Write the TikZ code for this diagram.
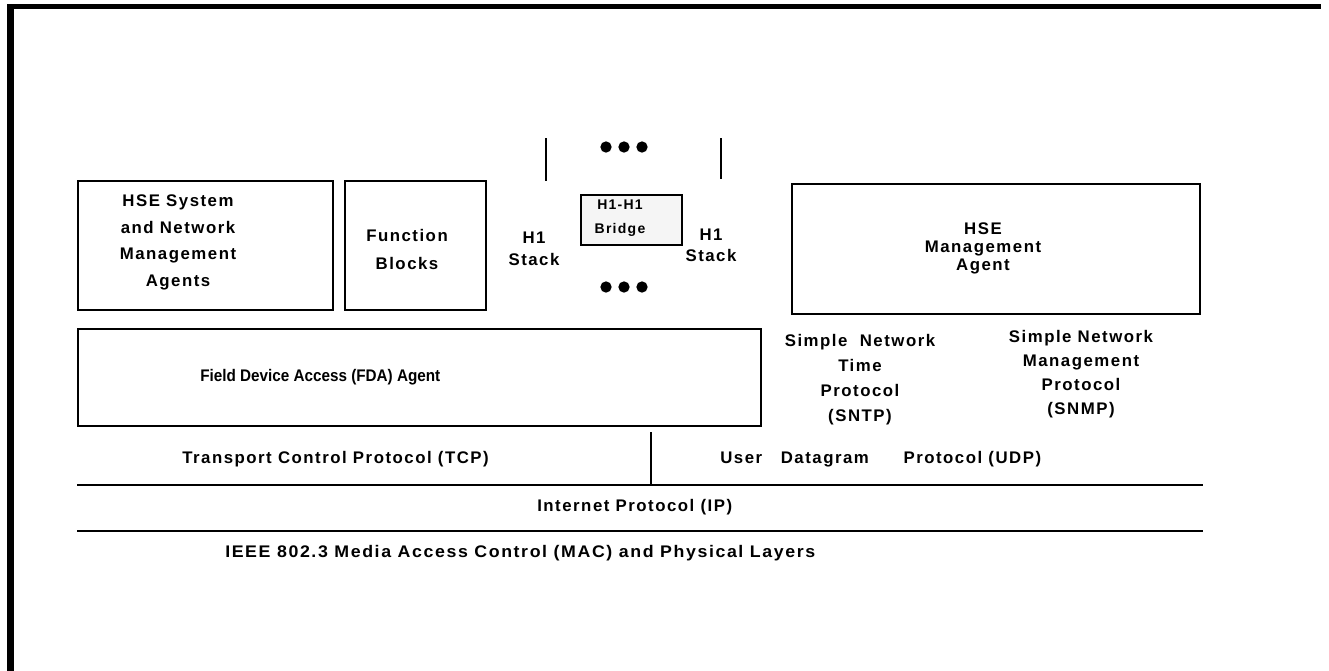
\documentclass[tikz,border=0pt]{standalone}
\usepackage{fontspec}
\setmainfont{Liberation Sans}
\newfontfamily\labf{Liberation Sans}[LetterSpace=9]
\begin{document}
\begin{tikzpicture}[x=0.75pt,y=-0.75pt,
  box/.style={draw, line width=1.3pt, inner sep=0pt, anchor=north west},
  txt/.style={inner sep=0pt, align=center, font={\labf\bfseries\fontsize{12.6}{#1}\selectfont}},
  txt/.default=15,
  plain/.style={inner sep=0pt, align=center, font={\bfseries\fontsize{12.6}{15}\selectfont}},
  small/.style={inner sep=0pt, align=center, font={\labf\bfseries\fontsize{10.5}{#1}\selectfont}},
  dot/.style={circle, fill=black, inner sep=0pt, minimum size=8.5pt},
  rule/.style={line width=1.5pt},
  vrule/.style={line width=1.3pt}]
\useasboundingbox (0,0) rectangle (1329,671);
% frame
\fill (7,4) rectangle (1321,9);
\fill (7,4) rectangle (14,671);
% top boxes
\node[box, minimum width=255*0.75pt, minimum height=129*0.75pt] (hsesys) at (77,180) {};
\node[box, minimum width=141*0.75pt, minimum height=129*0.75pt] (fb) at (344,180) {};
\node[box, fill=gray!8, minimum width=101*0.75pt, minimum height=50*0.75pt] (bridge) at (580,194) {};
\node[box, minimum width=408*0.75pt, minimum height=130*0.75pt] (hsem) at (791,183) {};
\node[box, minimum width=683*0.75pt, minimum height=97*0.75pt] (fda) at (77,328) {};
% texts
\node[txt=19.9] (thsesys) at (178,242.5) {HSE System\\and Network\\Management\\Agents};
\node[txt=21.7] (tfb) at (407,249.5) {Function\\Blocks};
\node[txt=16.5] (th1l) at (534,249) {H1\\Stack};
\node[txt=15.8] (th1r) at (711,245.5) {H1\\Stack};
\node[small=18] (tbridge) at (620,218) {H1-H1\\Bridge};
\node[txt=13.5] (thsem) at (983,248) {HSE\\Management\\Agent};
\node[plain, anchor=west] (tfda) at (200,377) {\resizebox{240\dimexpr0.75pt\relax}{\height}{Field Device Access (FDA) Agent}};
\node[txt=18.75] (tsntp) at (860,380) {Simple\ \ Network\\Time\\Protocol\\(SNTP)};
\node[txt=18] (tsnmp) at (1081,374) {Simple Network\\Management\\Protocol\\(SNMP)};
\node[txt, anchor=west] (ttcp) at (182,459) {Transport Control Protocol (TCP)};
\node[txt, anchor=west] (tudp) at (720,459) {User\hspace{14pt}Datagram\hspace{26pt}Protocol (UDP)};
\node[txt, anchor=west] (tip) at (537,507) {Internet Protocol (IP)};
\node[txt, anchor=west] (tieee) at (225,553) {\resizebox{590\dimexpr0.75pt\relax}{\height}{IEEE 802.3 Media Access Control (MAC) and Physical Layers}};
% dots
\node[dot] (d1) at (606,147) {};
\node[dot] (d2) at (624,147) {};
\node[dot] (d3) at (642,147) {};
\node[dot] (d4) at (606,287) {};
\node[dot] (d5) at (624,287) {};
\node[dot] (d6) at (642,287) {};
% vertical stubs
\coordinate (sl1) at (546,138); \coordinate (sl2) at (546,181);
\coordinate (sr1) at (721,138); \coordinate (sr2) at (721,179);
\draw[vrule] (sl1) -- (sl2);
\draw[vrule] (sr1) -- (sr2);
% layer lines
\coordinate (la) at (77,485); \coordinate (lb) at (1203,485);
\coordinate (ma) at (77,531); \coordinate (mb) at (1203,531);
\coordinate (va) at (651,432); \coordinate (vb) at (651,485);
\draw[rule] (la) -- (lb);
\draw[rule] (ma) -- (mb);
\draw[vrule] (va) -- (vb);
\end{tikzpicture}
\end{document}
